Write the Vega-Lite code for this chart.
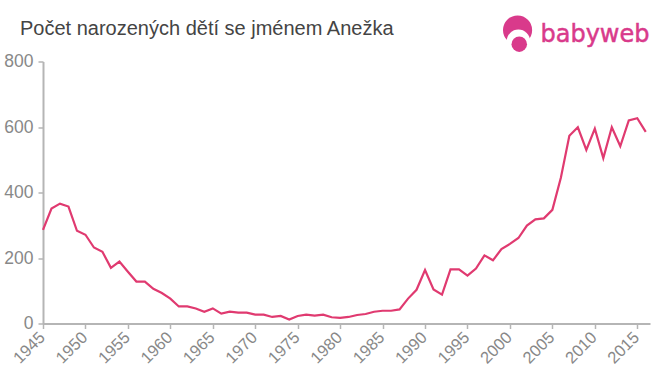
{"$schema":"https://vega.github.io/schema/vega-lite/v6.json","width":607,"height":262,"autosize":{"type":"none"},"padding":{"left":43,"top":61.5,"right":10,"bottom":51.5},"background":"white","title":{"text":"Počet narozených dětí se jménem Anežka","anchor":"start","frame":"group","dx":-23,"offset":-24,"font":"Liberation Sans","fontSize":20,"fontWeight":"normal","color":"#444444"},"config":{"view":{"stroke":null}},"layer":[{"data":{"values":[{"year":1945,"births":286},{"year":1946,"births":351},{"year":1947,"births":366},{"year":1948,"births":357},{"year":1949,"births":283},{"year":1950,"births":271},{"year":1951,"births":232},{"year":1952,"births":219},{"year":1953,"births":170},{"year":1954,"births":189},{"year":1955,"births":158},{"year":1956,"births":128},{"year":1957,"births":128},{"year":1958,"births":106},{"year":1959,"births":93},{"year":1960,"births":76},{"year":1961,"births":52},{"year":1962,"births":52},{"year":1963,"births":46},{"year":1964,"births":36},{"year":1965,"births":46},{"year":1966,"births":30},{"year":1967,"births":36},{"year":1968,"births":33},{"year":1969,"births":33},{"year":1970,"births":27},{"year":1971,"births":27},{"year":1972,"births":20},{"year":1973,"births":23},{"year":1974,"births":12},{"year":1975,"births":23},{"year":1976,"births":27},{"year":1977,"births":24},{"year":1978,"births":27},{"year":1979,"births":19},{"year":1980,"births":17},{"year":1981,"births":20},{"year":1982,"births":26},{"year":1983,"births":29},{"year":1984,"births":36},{"year":1985,"births":39},{"year":1986,"births":39},{"year":1987,"births":43},{"year":1988,"births":76},{"year":1989,"births":103},{"year":1990,"births":163},{"year":1991,"births":104},{"year":1992,"births":88},{"year":1993,"births":165},{"year":1994,"births":165},{"year":1995,"births":146},{"year":1996,"births":168},{"year":1997,"births":208},{"year":1998,"births":193},{"year":1999,"births":227},{"year":2000,"births":243},{"year":2001,"births":261},{"year":2002,"births":299},{"year":2003,"births":318},{"year":2004,"births":321},{"year":2005,"births":347},{"year":2006,"births":445},{"year":2007,"births":573},{"year":2008,"births":599},{"year":2009,"births":530},{"year":2010,"births":595},{"year":2011,"births":505},{"year":2012,"births":599},{"year":2013,"births":541},{"year":2014,"births":620},{"year":2015,"births":627},{"year":2016,"births":585}]},"mark":{"type":"line","color":"#e03a70","strokeWidth":2.2,"clip":false},"encoding":{"x":{"field":"year","type":"quantitative","scale":{"domain":[1945,2016.5],"nice":false,"zero":false},"axis":{"title":null,"values":[1945,1950,1955,1960,1965,1970,1975,1980,1985,1990,1995,2000,2005,2010,2015],"format":"d","labelAngle":-45,"labelAlign":"right","labelBaseline":"middle","labelFont":"Liberation Sans","labelFontSize":16.5,"labelColor":"#888888","labelPadding":6,"labelOffset":-1,"labelOverlap":false,"labelBound":false,"labelFlush":false,"domainColor":"#b5b5b5","domainWidth":2,"tickColor":"#b5b5b5","tickWidth":1.5,"tickSize":5,"grid":false}},"y":{"field":"births","type":"quantitative","scale":{"domain":[0,800],"nice":false},"axis":{"title":null,"values":[0,200,400,600,800],"labelFont":"Liberation Sans","labelFontSize":17.5,"labelColor":"#888888","labelPadding":5,"domainColor":"#b5b5b5","domainWidth":2,"tickColor":"#b5b5b5","tickWidth":1.5,"tickSize":5,"grid":false}}}},{"data":{"values":[{"year":2000.9,"births":896,"part":"hair"},{"year":2001.0,"births":862,"part":"face"},{"year":2001.1,"births":853,"part":"head"}]},"mark":{"type":"point","filled":true,"opacity":1,"clip":false},"encoding":{"x":{"field":"year","type":"quantitative"},"y":{"field":"births","type":"quantitative"},"order":{"field":"births","sort":"descending"},"color":{"field":"part","type":"nominal","legend":null,"scale":{"domain":["hair","face","head"],"range":["#d93a8b","#ffffff","#d93a8b"]}},"size":{"field":"part","type":"nominal","legend":null,"scale":{"domain":["hair","face","head"],"range":[850,240,100]}}}},{"data":{"values":[{"year":2003.6,"births":860,"logo":"babyweb"}]},"mark":{"type":"text","align":"left","baseline":"alphabetic","font":"DejaVu Sans","fontSize":24,"color":"#d93a8b","stroke":"#d93a8b","strokeWidth":0.5,"clip":false},"encoding":{"x":{"field":"year","type":"quantitative"},"y":{"field":"births","type":"quantitative"},"text":{"field":"logo"}}}],"resolve":{"scale":{"color":"independent","size":"independent"}}}
